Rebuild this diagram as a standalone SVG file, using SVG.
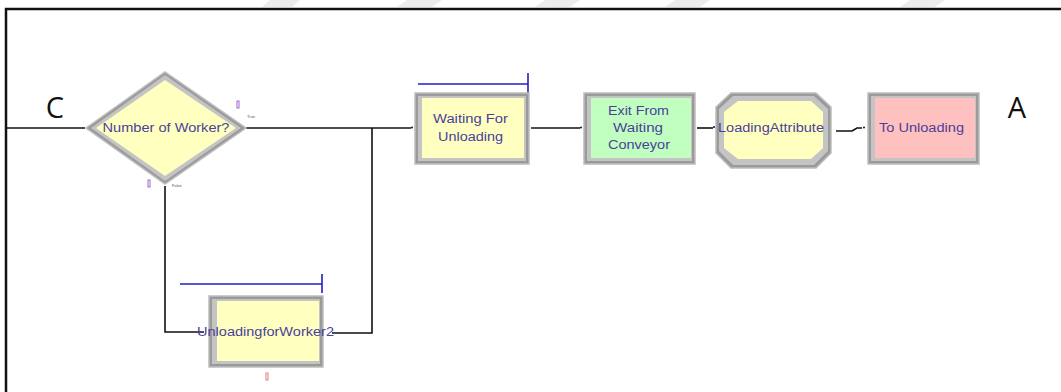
<svg xmlns="http://www.w3.org/2000/svg" width="1061" height="392" viewBox="0 0 1061 392">
  <style>
    .frame { fill: none; stroke: #111; stroke-width: 2.5; }
    .wm { fill: #ececec; }
    .edge { fill: none; stroke: #111; stroke-width: 1.6; }
    .outer { fill: #9a9a9a; stroke: #bdbdbd; stroke-width: 1.5; }
    .band { fill: #c4c4c4; }
    .lbl { font-family: "Liberation Sans", Arial, sans-serif; font-size: 12.5px; fill: #4a3f9a; text-anchor: middle; }
    .big { font-family: "Open Sans", "Liberation Sans", sans-serif; font-size: 29px; fill: #111; text-anchor: middle; }
    .tiny { font-family: "Liberation Sans", Arial, sans-serif; font-size: 4px; fill: #555; }
    .mark { fill: none; stroke: #a06ad0; stroke-width: 1; }
    .markr { fill: none; stroke: #e08080; stroke-width: 1; }
    .queue { fill: none; stroke: #2020c8; stroke-width: 1.6; }
    .yellow { fill: #ffffc0; }
    .green { fill: #c0ffc0; }
    .pink { fill: #ffc0c0; }
  </style>

  <!-- faint background stripes along the top edge -->
  <g id="stripes">
    <polygon class="wm" points="262,7 292,7 300,0 270,0"/>
    <polygon class="wm" points="397,7 432,7 442,0 407,0"/>
    <polygon class="wm" points="535,7 570,7 580,0 545,0"/>
    <polygon class="wm" points="665,7 700,7 710,0 675,0"/>
    <polygon class="wm" points="900,7 935,7 945,0 910,0"/>
  </g>

  <!-- page frame -->
  <path class="frame" d="M6,392 V9 H1061"/>

  <!-- off-page labels -->
  <text class="big" x="55" y="118">C</text>
  <text class="big" x="1017" y="118">A</text>

  <!-- connectors -->
  <g id="connectors">
    <path class="edge" d="M7,128 H85"/>
    <path class="edge" d="M248,128 H411"/>
    <path class="edge" d="M372,128 V333 H332"/>
    <path class="edge" d="M165,186 V332 H204"/>
    <path class="edge" d="M531,128 H580"/>
    <path class="edge" d="M697,128 H713"/>
    <path class="edge" d="M836,131 H852 L857,128 H862"/>
    <circle cx="412" cy="127.5" r="1" fill="#111"/>
    <circle cx="581" cy="127.5" r="1" fill="#111"/>
    <circle cx="714" cy="127" r="1" fill="#111"/>
    <circle cx="864" cy="127.5" r="1" fill="#111"/>
    <circle cx="247" cy="128" r="1" fill="#111"/>
  </g>

  <!-- decision node -->
  <g id="decide">
    <polygon class="outer" points="86,128 165,72 246,128 165,184"/>
    <polygon class="band" points="91,128 165,75 241,128 165,181"/>
    <polygon class="yellow" points="96,128 165,80 236,128 165,176"/>
    <text class="lbl" x="166" y="132" textLength="127" lengthAdjust="spacingAndGlyphs">Number of Worker?</text>
    <rect class="mark" x="237" y="101" width="2" height="7"/>
    <text class="tiny" x="247" y="118">True</text>
    <rect class="mark" x="148" y="180" width="2" height="7"/>
    <text class="tiny" x="172" y="187">False</text>
  </g>

  <!-- queue-holding process on the lower branch -->
  <g id="unloadingForWorker2">
    <path class="queue" d="M180,284 H322 M322,274 V293"/>
    <rect class="outer" x="209" y="296" width="114" height="71"/>
    <rect class="band" x="212" y="299" width="108" height="65"/>
    <rect class="yellow" x="217" y="301" width="102" height="60"/>
    <text class="lbl" x="265.5" y="336" textLength="137" lengthAdjust="spacingAndGlyphs">UnloadingforWorker2</text>
    <rect class="markr" x="266" y="373" width="2" height="7"/>
  </g>

  <!-- queue-holding process on the main line -->
  <g id="waitingForUnloading">
    <path class="queue" d="M418,84 H528 M528,73 V93"/>
    <rect class="outer" x="415" y="93" width="114" height="71"/>
    <rect class="band" x="418" y="96" width="108" height="65"/>
    <rect class="yellow" x="422" y="98" width="102" height="60"/>
    <text class="lbl" x="470.5" y="123" textLength="75" lengthAdjust="spacingAndGlyphs">Waiting For</text>
    <text class="lbl" x="470.5" y="141" textLength="65" lengthAdjust="spacingAndGlyphs">Unloading</text>
  </g>

  <g id="exitFromWaitingConveyor">
    <rect class="outer" x="584" y="93" width="111" height="71"/>
    <rect class="band" x="587" y="96" width="105" height="65"/>
    <rect class="green" x="591" y="98" width="100" height="60"/>
    <text class="lbl" x="638.5" y="115" textLength="61" lengthAdjust="spacingAndGlyphs">Exit From</text>
    <text class="lbl" x="638" y="132" textLength="50" lengthAdjust="spacingAndGlyphs">Waiting</text>
    <text class="lbl" x="639" y="149" textLength="62" lengthAdjust="spacingAndGlyphs">Conveyor</text>
  </g>

  <g id="loadingAttribute">
    <polygon class="outer" points="731,93 816,93 831,107 831,153 816,168 731,168 716,153 716,107"/>
    <polygon class="band" points="733,96 814,96 828,109 828,151 814,165 733,165 719,151 719,109"/>
    <polygon class="yellow" points="738,101 811,101 823,112 823,148 811,159 738,159 724,148 724,112"/>
    <text class="lbl" x="771" y="132" textLength="106" lengthAdjust="spacingAndGlyphs">LoadingAttribute</text>
  </g>

  <g id="toUnloading">
    <rect class="outer" x="868" y="93" width="111" height="71"/>
    <rect class="band" x="871" y="96" width="105" height="65"/>
    <rect class="pink" x="875" y="98" width="100" height="60"/>
    <text class="lbl" x="921.5" y="132" textLength="85" lengthAdjust="spacingAndGlyphs">To Unloading</text>
  </g>
</svg>
